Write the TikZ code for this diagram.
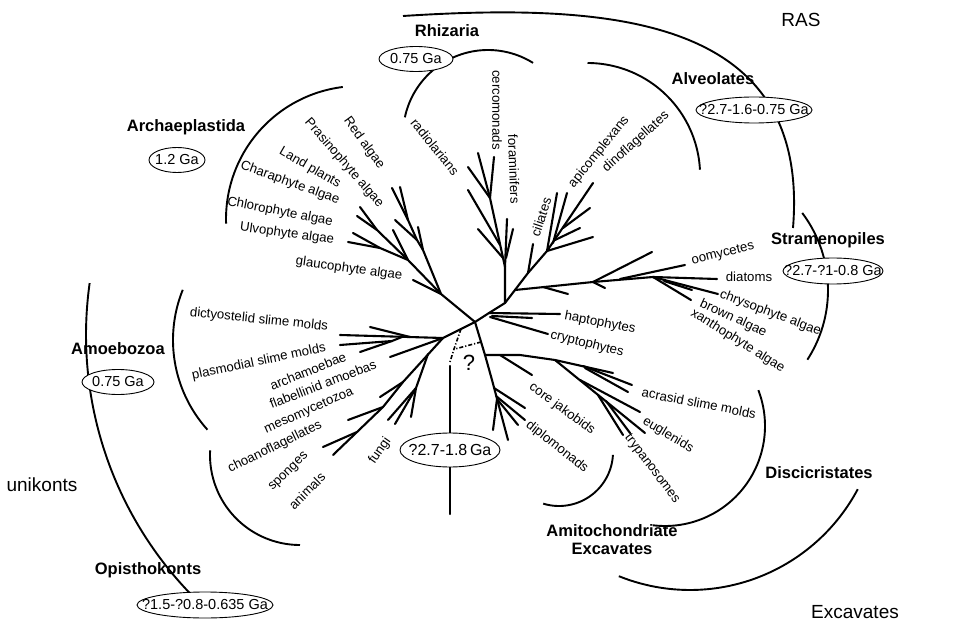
\documentclass[tikz,border=0pt]{standalone}
\usepackage{fontspec}
\setmainfont{Liberation Sans}
\begin{document}
\begin{tikzpicture}[x=1pt,y=-1pt,
  br/.style={line width=2.1pt, line cap=round, line join=round},
  arcl/.style={line width=1.9pt},
  lab/.style={font=\fontsize{13.2}{15}\selectfont, inner sep=0pt},
  grp/.style={font=\fontsize{16.5}{19}\selectfont\bfseries, inner sep=0pt},
  bigl/.style={font=\fontsize{19}{22}\selectfont, inner sep=0pt},
  ellp/.style={draw, line width=0.9pt, fill=white},
  ellt/.style={font=\fontsize{14.5}{17}\selectfont, inner sep=0pt},
  dd/.style={line width=1.6pt, dash pattern=on 4pt off 2pt on 1.2pt off 2pt}
]
\useasboundingbox (0,0) rectangle (953,628);

% ---------- bracket arcs ----------
\draw[arcl] plot[domain=97:182,samples=60] ({359+133*cos(\x)},{219-133*sin(\x)});   % Archaeplastida
\draw[arcl] plot[domain=58:168,samples=60] ({488+85*cos(\x)},{135-85*sin(\x)});     % Rhizaria
\draw[arcl] plot[domain=3:90,samples=60] ({587.5+112.6*cos(\x)},{175.6-112.6*sin(\x)}); % Alveolates
\draw[arcl] (403,16) .. controls (620,2) and (810,20) .. (793,228);                  % RAS
\draw[arcl] plot[domain=-33:37,samples=60] ({700+128*cos(\x)},{290-128*sin(\x)});   % Stramenopiles
\draw[arcl] plot[domain=158:222,samples=60] ({307+134*cos(\x)},{340-134*sin(\x)});  % Amoebozoa
\draw[arcl] plot[domain=177:270,samples=60] ({300+90*cos(\x)},{455-90*sin(\x)});    % Opisthokonts
\draw[arcl] plot[domain=172:228,samples=80] ({459+373*cos(\x)},{335-373*sin(\x)});  % unikonts
\draw[arcl] plot[domain=-107:-3,samples=60] ({559+54*cos(\x)},{452-54*sin(\x)});    % Amitochondriate
\draw[arcl] plot[domain=-97:21,samples=60] ({665+100*cos(\x)},{426-100*sin(\x)});   % Discicristates
\draw[arcl] plot[domain=-112:-28,samples=60] ({690+190*cos(\x)},{400-190*sin(\x)}); % Excavates

% ---------- tree ----------
\coordinate (C) at (475,322);
% Archaeplastida
\coordinate (a1) at (441,294);
\coordinate (s1) at (423,250);
\coordinate (s2) at (417,240);
\coordinate (s3) at (408,220);
\coordinate (c1) at (408,260);
\coordinate (c2) at (380,248);
\coordinate (c3) at (377,230);
\draw[br] (C) -- (a1) -- (413,280);
\draw[br] (a1) -- (s1) -- (418,227);
\draw[br] (s1) -- (s2) -- (s3) -- (392,188);
\draw[br] (s3) -- (400,187);
\draw[br] (s2) -- (395,220);
\draw[br] (a1) -- (c1) -- (c3) -- (360,207);
\draw[br] (c3) -- (357,216);
\draw[br] (c1) -- (c2) -- (353,233);
\draw[br] (c2) -- (348,242);
\draw[br] (c1) -- (393,230);
% Rhizaria
\coordinate (h0) at (489,313);
\coordinate (r0) at (505,303);
\coordinate (r1) at (505,267);
\coordinate (r2) at (490,198);
\draw[br] (C) -- (h0) -- (r0) -- (r1) -- (507,219);
\draw[br] (506,258) -- (513,229);
\draw[br] (r1) -- (r2) -- (478,153);
\draw[br] (r2) -- (494,157);
\draw[br] (r2) -- (468,167);
\draw[br] (503,258) -- (478,229);
\draw[br] (500,245) -- (468,190);
% Alveolates
\coordinate (al1) at (528,273);
\coordinate (al2) at (547,251);
\draw[br] (r0) -- (al1) -- (al2) -- (593,183);
\draw[br] (al1) -- (533,244);
\draw[br] (al2) -- (557,193);
\draw[br] (553,243) -- (567,193);
\draw[br] (563,228) -- (590,208);
\draw[br] (555,240) -- (580,228);
\draw[br] (al2) -- (593,237);
% Stramenopiles
\coordinate (st0) at (515,290);
\coordinate (st2) at (593,282);
\coordinate (st3) at (653,277);
\draw[br] (st0) -- (st2) -- (st3) -- (717,279);
\draw[br] (543,287) -- (568,294);
\draw[br] (st2) -- (605,288);
\draw[br] (st2) -- (652,252);
\draw[br] (620,279) -- (685,265);
\draw[br] (st3) -- (718,294);
\draw[br] (st3) -- (691,300);
\draw[br] (664,281) -- (692,290);
% haptophytes / cryptophytes
\draw[br] (h0) -- (560,314);
\draw[br] (492,316) -- (532,318);
\draw[br] (490,317) -- (548,334);
% Amoebozoa
\coordinate (am0) at (443,338);
\draw[br] (C) -- (am0) -- (340,335);
\draw[br] (410,337) -- (370,327);
\draw[br] (402,337) -- (392,341) -- (340,345);
\draw[br] (392,341) -- (360,352);
\draw[br] (am0) -- (390,357);
% Opisthokonts
\coordinate (o1) at (403,382);
\coordinate (o2) at (383,407);
\coordinate (o3) at (357,432);
\draw[br] (am0) -- (o1) -- (o2) -- (o3) -- (333,455);
\draw[br] (o1) -- (380,397);
\draw[br] (o2) -- (348,420);
\draw[br] (o3) -- (323,447);
\coordinate (f0) at (428,354);
\coordinate (f1) at (416,388);
\draw[br] (f0) -- (f1) -- (388,420);
\draw[br] (f1) -- (395,424);
\draw[br] (f1) -- (411,417);
% Excavates
\coordinate (e1) at (485,355);
\coordinate (e2) at (492,380);
\coordinate (d1) at (555,360);
\draw[br] (C) -- (e1) -- (e2) -- (508,440);
\draw[br] (e1) -- (520,355) -- (d1) -- (613,373);
\draw[br] (500,355) -- (532,375);
\draw[br] (583,366) -- (632,385);
\draw[br] (585,368) -- (628,392);
\draw[br] (d1) -- (645,433);
\draw[br] (580,380) -- (640,412);
\draw[br] (598,395) -- (623,435);
\draw[br] (606,401) -- (630,433);
\draw[br] (494,388) -- (525,408);
\draw[br] (496,396) -- (525,420);
\draw[br] (497,399) -- (518,425);
\draw[br] (497,399) -- (493,430);
% root and uncertain links
\draw[dd] (461,329) -- (454,349) -- (450,362);
\draw[dd] (481,342) -- (455,349);
\draw[br] (450,366) -- (450,514);
\node[font=\fontsize{22}{24}\selectfont, inner sep=0pt] (q) at (469,363) {?};

% ---------- ellipses ----------
\draw[ellp] (450,450) ellipse [x radius=50pt, y radius=17pt] node[font=\fontsize{16}{18}\selectfont, inner sep=0pt] (eroot) {?2.7-1.8\,Ga};
\draw[ellp] (416,59) ellipse [x radius=37pt, y radius=12.5pt] node[ellt] (erhi) {0.75 Ga};
\draw[ellp] (754,110) ellipse [x radius=58pt, y radius=13pt] node[ellt] (ealv) {?2.7-1.6-0.75 Ga};
\draw[ellp] (177,160) ellipse [x radius=28pt, y radius=12.5pt] node[ellt] (earc) {1.2 Ga};
\draw[ellp] (833,271) ellipse [x radius=50pt, y radius=13pt] node[ellt] (estr) {?2.7-?1-0.8 Ga};
\draw[ellp] (118,382) ellipse [x radius=36pt, y radius=12.5pt] node[ellt] (eamo) {0.75 Ga};
\draw[ellp] (205,605) ellipse [x radius=68pt, y radius=13pt] node[ellt] (eopi) {?1.5-?0.8-0.635 Ga};

% ---------- group labels ----------
\node[grp] (gRhi) at (447,31) {Rhizaria};
\node[grp] (gAlv) at (713,79) {Alveolates};
\node[grp] (gArc) at (186,127) {Archaeplastida};
\node[grp] (gStr) at (828,240) {Stramenopiles};
\node[grp] (gAmo) at (118,349) {Amoebozoa};
\node[grp] (gOpi) at (148,570) {Opisthokonts};
\node[grp] (gDis) at (819,473) {Discicristates};
\node[grp, align=center] (gAmi) at (612,540) {Amitochondriate\\[-1pt]Excavates};
\node[bigl] (gRAS) at (801,20) {RAS};
\node[bigl] (gExc) at (855,612) {Excavates};
\node[bigl] (gUni) at (42,485) {unikonts};

% ---------- taxon labels ----------
\node[lab, rotate=-54] (tRed) at (364,143) {Red algae};
\node[lab, rotate=-49] (tPra) at (344,163) {Prasinophyte algae};
\node[lab, rotate=-30] (tLan) at (310,168) {Land plants};
\node[lab, rotate=-20] (tCha) at (290,183) {Charaphyte algae};
\node[lab, rotate=-11] (tChl) at (280,212) {Chlorophyte algae};
\node[lab, rotate=-8] (tUlv) at (287,234) {Ulvophyte algae};
\node[lab, rotate=-8] (tGla) at (349,269) {glaucophyte algae};
\node[lab, rotate=-51] (tRad) at (435,147) {radiolarians};
\node[lab, rotate=-90] (tCer) at (497,110) {cercomonads};
\node[lab, rotate=-88] (tFor) at (514,169) {foraminifers};
\node[lab, rotate=72] (tCil) at (541,217) {ciliates};
\node[lab, rotate=51] (tApi) at (599,152) {apicomplexans};
\node[lab, rotate=42] (tDin) at (636,142) {dinoflagellates};
\node[lab, rotate=14] (tOom) at (723,254) {oomycetes};
\node[lab] (tDia) at (749,277) {diatoms};
\node[lab, rotate=-21, anchor=base west] (tChr) at (719,297) {chrysophyte algae};
\node[lab, rotate=-25, anchor=base west] (tBro) at (699,306) {brown algae};
\node[lab, rotate=-32, anchor=base west] (tXan) at (690,315) {xanthophyte algae};
\node[lab, rotate=-11] (tHap) at (600,323) {haptophytes};
\node[lab, rotate=-14] (tCry) at (587,344) {cryptophytes};
\node[lab, rotate=-6] (tDic) at (259,320) {dictyostelid slime molds};
\node[lab, rotate=12] (tPla) at (259,362) {plasmodial slime molds};
\node[lab, rotate=22] (tArc) at (308,371) {archamoebae};
\node[lab, rotate=21] (tFla) at (323,384) {flabellinid amoebas};
\node[lab, rotate=24] (tMes) at (309,411) {mesomycetozoa};
\node[lab, rotate=26] (tCho) at (275,447) {choanoflagellates};
\node[lab, rotate=44] (tSpo) at (289,472) {sponges};
\node[lab, rotate=45] (tAni) at (307,491) {animals};
\node[lab, rotate=55] (tFun) at (380,451) {fungi};
\node[lab, rotate=-36] (tJak) at (562,409) {core jakobids};
\node[lab, rotate=-38] (tDip) at (557,447) {diplomonads};
\node[lab, rotate=-11] (tAcr) at (699,403) {acrasid slime molds};
\node[lab, rotate=-31] (tEug) at (668,435) {euglenids};
\node[lab, rotate=-53] (tTry) at (652,469) {trypanosomes};
\end{tikzpicture}
\end{document}
